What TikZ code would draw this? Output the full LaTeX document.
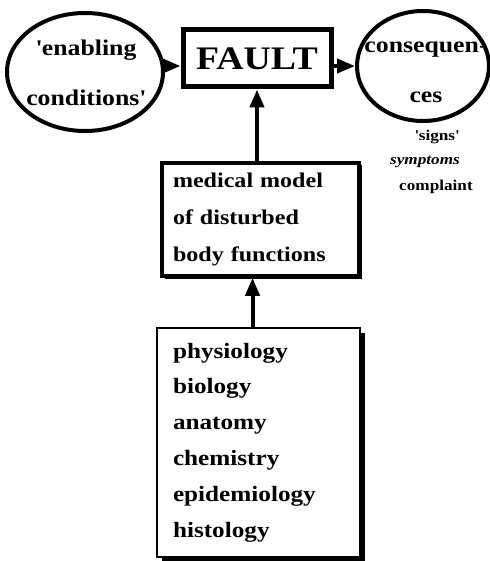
\documentclass[tikz,border=0pt]{standalone}
\usepackage{fontspec}
\setmainfont{Liberation Serif}[FakeStretch=1.15]
\usetikzlibrary{arrows.meta,shapes.geometric,shadows,calc}
\begin{document}
\begin{tikzpicture}[x=1bp,y=-1bp,
  oval/.style={draw, ellipse, line width=4bp, inner sep=0pt},
  big/.style={font=\bfseries\fontsize{22.5}{50}\selectfont, align=center, inner sep=0pt},
  small/.style={font=\bfseries\fontsize{15}{15}\selectfont, inner sep=0pt},
  arr/.style={line width=4bp, -{Triangle[length=18bp,width=14bp]}},
  faultbox/.style={draw, line width=5bp, fill=white, inner sep=0pt,
    font=\bfseries\fontsize{33}{33}\selectfont},
  midbox/.style={draw, line width=3.5bp, fill=white, align=left, inner ysep=0pt,
    font=\bfseries\fontsize{21}{37}\selectfont,
    drop shadow={shadow xshift=2.5bp, shadow yshift=-2.5bp, fill=black, opacity=1}},
  lowbox/.style={draw, line width=1.5bp, fill=white, align=left, inner ysep=0pt,
    font=\bfseries\fontsize{22}{36}\selectfont,
    drop shadow={shadow xshift=5bp, shadow yshift=-5bp, fill=black, opacity=1}}
]
\useasboundingbox (0,0) rectangle (490,561);
\fill[white] (0,0) rectangle (490,561);

% left ellipse
\node[oval, minimum width=156bp, minimum height=118bp] (lell) at (85,72) {};
\node[big] (ltxt) at (86,73) {\textquotesingle enabling\\conditions\textquotesingle};

% fault box
\node[faultbox, minimum width=148bp, minimum height=57bp] (fault) at (257,58.5) {FAULT};

% right ellipse
\node[oval, minimum width=132bp, minimum height=110bp] (rell) at (423,66) {};
\node[big] (rtxt) at (426,72) {consequen-\\ces};

% small labels
\node[small] (signs) at (437,137) {\textquotesingle signs\textquotesingle};
\node[small, font=\bfseries\itshape\fontsize{15}{15}\selectfont] (sympt) at (425,162) {symptoms};
\node[small] (compl) at (436,187) {complaint};

% middle box
\node[midbox, text width=175bp, inner xsep=11bp, minimum height=113bp] (mid) at (260.5,219.5)
  {medical model\\of disturbed\\body functions};

% lower box
\node[lowbox, text width=171bp, inner xsep=16bp, minimum height=229bp] (low) at (258.5,442.5)
  {physiology\\biology\\anatomy\\chemistry\\epidemiology\\histology};

% arrows
\coordinate (ay) at (0,66);
\draw[arr] (lell.east |- ay) -- (fault.west |- ay);
\draw[arr] (fault.east |- ay) -- (rell.west |- ay);
\draw[arr] (mid.north -| fault.south) -- (fault.south);
\coordinate (lowtop) at ([xshift=-6bp]low.north);
\draw[arr] (lowtop) -- (lowtop |- mid.south);
\end{tikzpicture}
\end{document}
